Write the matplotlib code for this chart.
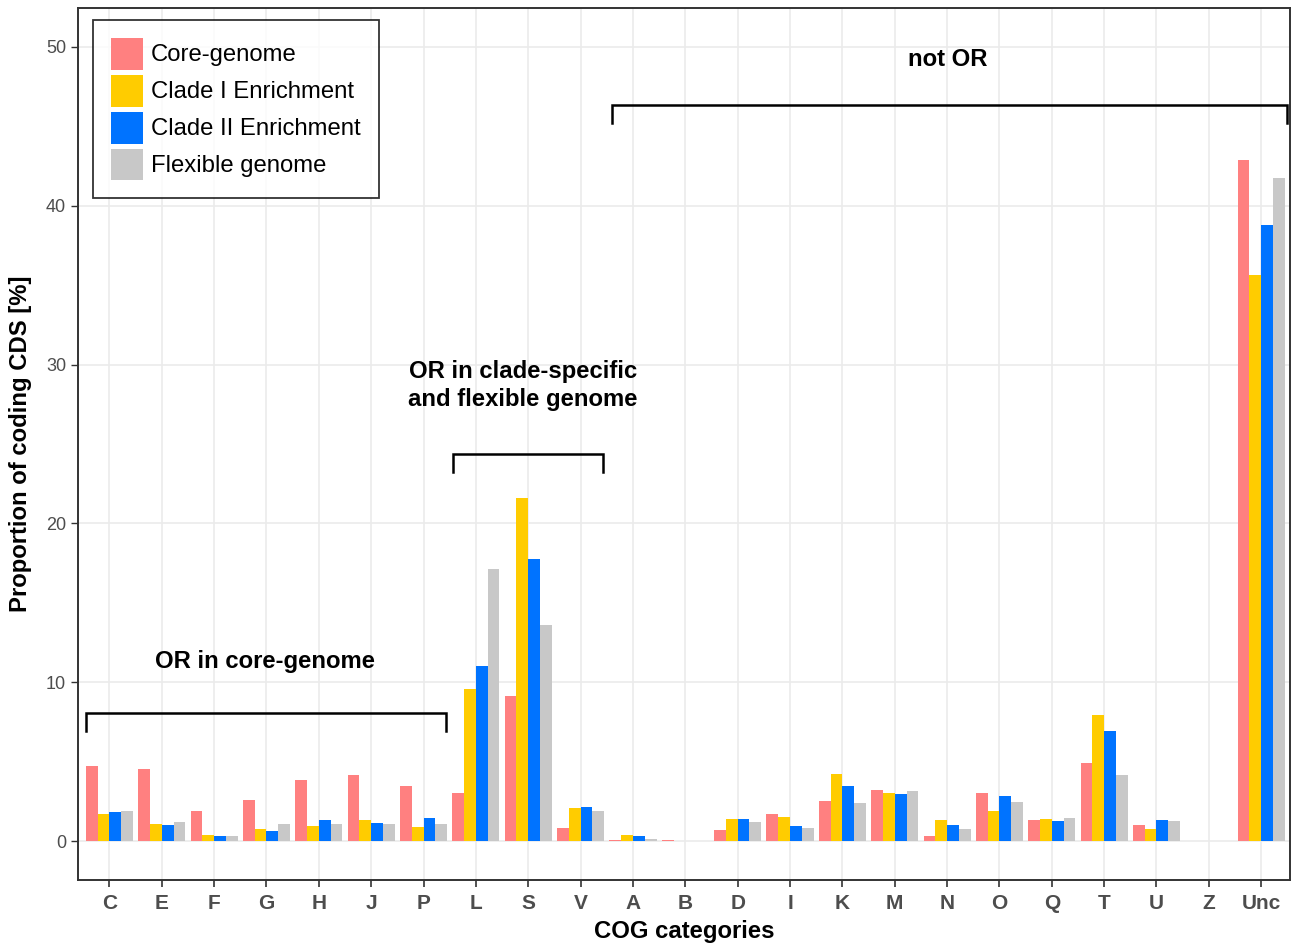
import matplotlib

matplotlib.use("Agg")

import matplotlib.pyplot as plt
import numpy as np
from matplotlib.patches import Patch

plt.rcParams["font.family"] = ["Liberation Sans", "DejaVu Sans"]

categories = ["C", "E", "F", "G", "H", "J", "P", "L", "S", "V", "A", "B",
              "D", "I", "K", "M", "N", "O", "Q", "T", "U", "Z", "Unc"]

series_names = ["Core-genome", "Clade I Enrichment", "Clade II Enrichment", "Flexible genome"]

core = [4.72, 4.55, 1.87, 2.58, 3.86, 4.18, 3.48, 3.00, 9.13, 0.84, 0.07, 0.05,
        0.72, 1.69, 2.54, 3.19, 0.33, 3.04, 1.32, 4.89, 1.00, 0.0, 42.86]
clade1 = [1.70, 1.09, 0.40, 0.77, 0.98, 1.30, 0.88, 9.59, 21.60, 2.10, 0.39, 0.0,
          1.37, 1.50, 4.20, 3.00, 1.30, 1.90, 1.38, 7.91, 0.78, 0.0, 35.62]
clade2 = [1.83, 1.03, 0.33, 0.61, 1.30, 1.13, 1.47, 11.00, 17.76, 2.17, 0.33, 0.0,
          1.37, 0.94, 3.46, 2.96, 1.02, 2.85, 1.28, 6.93, 1.30, 0.0, 38.78]
flexible = [1.89, 1.20, 0.30, 1.05, 1.10, 1.07, 1.09, 17.13, 13.60, 1.89, 0.10, 0.0,
            1.20, 0.80, 2.41, 3.16, 0.77, 2.47, 1.43, 4.18, 1.24, 0.0, 41.72]

colors = ["#FF8080", "#FFCC00", "#0073FF", "#C8C8C8"]

# bracket annotations: (x start, x end, y, label, label x, label y)
brackets = [
    (-0.44, 6.42, 8.05, "OR in core-genome", 2.98, 11.3),
    (6.56, 9.43, 24.4, "OR in clade-specific\nand flexible genome", 7.9, 28.7),
    (9.6, 22.49, 46.35, "not OR", 16.02, 49.2),
]
tick_drop = 1.15

fig = plt.figure(figsize=(12.95, 9.44), dpi=100)
ax = fig.add_axes([78 / 1295, 1 - 880 / 944, (1290 - 78) / 1295, (880 - 8) / 944])

x = np.arange(len(categories))
width = 0.225
all_series = [core, clade1, clade2, flexible]
for i, (vals, col) in enumerate(zip(all_series, colors)):
    ax.bar(x + (i - 1.5) * width, vals, width=width, color=col, linewidth=0, zorder=2)

for x0, x1, y, label, lx, ly in brackets:
    ax.plot([x0, x0, x1, x1], [y - tick_drop, y, y, y - tick_drop],
            color="black", linewidth=1.8, zorder=3, solid_joinstyle="miter")
    ax.text(lx, ly, label, ha="center", va="center", fontsize=17.2,
            fontweight="bold", linespacing=1.3, zorder=3)

ax.set_xlim(-0.6, len(categories) - 0.45)
ax.set_ylim(-2.45, 52.45)
ax.set_xticks(x)
ax.set_xticklabels(categories, fontsize=15, fontweight="bold", color="#4D4D4D")
ax.set_yticks([0, 10, 20, 30, 40, 50])
ax.tick_params(axis="y", labelsize=13, labelcolor="#4D4D4D", color="#333333", length=5, width=1)
ax.tick_params(axis="x", color="#333333", length=5, width=1.2, pad=5)
ax.grid(True, color="#EBEBEB", linewidth=1.2, zorder=0)
ax.set_axisbelow(True)
for s in ax.spines.values():
    s.set_color("#333333")
    s.set_linewidth(1.4)

ax.set_xlabel("COG categories", fontsize=17.2, fontweight="bold", labelpad=5)
ax.set_ylabel("Proportion of coding CDS [%]", fontsize=17.2, fontweight="bold", labelpad=10)

handles = [Patch(facecolor=c, edgecolor="none") for c in colors]
leg = ax.legend(handles, series_names, loc="upper left", bbox_to_anchor=(0.0125, 0.9865),
                fontsize=17.2, frameon=True, fancybox=False, edgecolor="black",
                handlelength=1.34, handleheight=1.68, handletextpad=0.33,
                labelspacing=0.21, borderpad=0.75, borderaxespad=0)
leg.get_frame().set_linewidth(1.3)

fig.savefig("out.png", dpi=100)
